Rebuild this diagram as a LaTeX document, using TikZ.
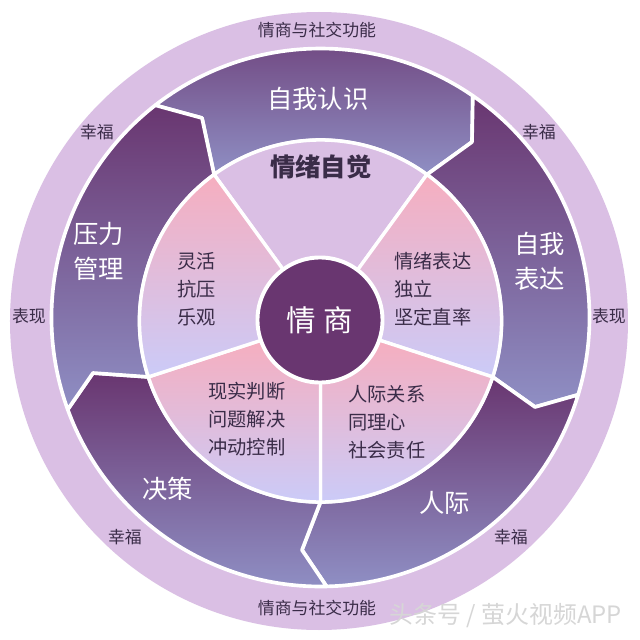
\documentclass[tikz,border=0pt]{standalone}
\usepackage{fontspec}
\setmainfont{Noto Sans CJK SC}
\definecolor{ringbg}{HTML}{DABFE4}
\definecolor{segtop}{HTML}{693670}
\definecolor{segbot}{HTML}{8F8FC4}
\definecolor{secttop}{HTML}{F6AEBF}
\definecolor{sectbot}{HTML}{CBCBF8}
\definecolor{ink}{HTML}{3A2C48}

\begin{document}
\begin{tikzpicture} [
    x=0.025cm, y=0.025cm,
    seg/.style      = { draw=white, line width=2.6pt, line join=round,
                        top color=segtop, bottom color=segbot },
    sect/.style     = { draw=white, line width=2.4pt, line join=round,
                        top color=secttop, bottom color=sectbot },
    etiq/.style     = { text=ink, font=\fontsize{12}{14}\selectfont, inner sep=0pt },
    seglab/.style   = { text=white, align=center, inner sep=0pt,
                        font=\fontsize{18}{25}\selectfont },
    sectlab/.style  = { text=ink, align=left, inner sep=0pt,
                        font=\fontsize{13.7}{20}\selectfont },
  ]
\useasboundingbox (-320,-320) rectangle (320,320);
\fill[white] (-320,-320) rectangle (320,320);

\fill[ringbg] (-1,-1) circle[radius=309];

% joints between the ring segments
\coordinate (Ring) at (0.5,2.5);
\begin{scope}[shift={(Ring)}]
\coordinate (ra) at (127.9:269);
\coordinate (rb) at (55.5:269);
\coordinate (rc) at (-16.7:269);
\coordinate (rd) at (-88.7:269);
\coordinate (re) at (-160:269);
\end{scope}
\coordinate (ea) at (-118,202);
\coordinate (eb) at (152,178);
\coordinate (ec) at (215,-87);
\coordinate (ed) at (-18,-230);
\coordinate (ee) at (-227,-53);

\begin{scope}[shift={(0.5,-1)}]
\coordinate (wa) at (126:181);
\coordinate (wb) at (54:181);
\coordinate (wc) at (-18:181);
\coordinate (wd) at (-90:181);
\coordinate (we) at (-162:181);
\coordinate (ia) at (126:60);
\coordinate (ib) at (54:60);
\coordinate (ic) at (-18:60);
\coordinate (id) at (-90:60);
\coordinate (ie) at (-162:60);
\end{scope}

\path[seg, top color=segtop!85!segbot] (ra) arc[start angle=127.9, end angle=55.5, radius=269] -- (eb) -- (wb)
  arc[start angle=54, end angle=126, radius=181] -- (ea) -- cycle;
\path[seg] (rb) arc[start angle=55.5, end angle=-16.7, radius=269] -- (ec) -- (wc)
  arc[start angle=-18, end angle=54, radius=181] -- (eb) -- cycle;
\path[seg] (rc) arc[start angle=-16.7, end angle=-88.7, radius=269] -- (ed) -- (wd)
  arc[start angle=-90, end angle=-18, radius=181] -- (ec) -- cycle;
\path[seg] (rd) arc[start angle=-88.7, end angle=-160, radius=269] -- (ee) -- (we)
  arc[start angle=-162, end angle=-90, radius=181] -- (ed) -- cycle;
\path[seg] (re) arc[start angle=200, end angle=127.9, radius=269] -- (ea) -- (wa)
  arc[start angle=126, end angle=198, radius=181] -- (ee) -- cycle;

\path[sect, fill=ringbg, top color=ringbg, bottom color=ringbg] (ia) -- (wa)
  arc[start angle=126, end angle=54, radius=181] -- (ib) -- cycle;
\path[sect] (ib) -- (wb) arc[start angle=54, end angle=-18, radius=181] -- (ic) -- cycle;
\path[sect] (ic) -- (wc) arc[start angle=-18, end angle=-90, radius=181] -- (id) -- cycle;
\path[sect] (id) -- (wd) arc[start angle=-90, end angle=-162, radius=181] -- (ie) -- cycle;
\path[sect] (ie) -- (we) arc[start angle=198, end angle=126, radius=181] -- (ia) -- cycle;

\node (Eq) [circle, fill=segtop, draw=white, line width=2.8pt, minimum size=3.125cm, inner sep=0pt,
  text=white, font=\fontsize{21}{26}\selectfont] at (0,0) {情\hspace{5pt}商};

\node (Self) [seglab] at (-2,221) {自我认识};
\node (Stress) [seglab] at (-221,69) {压力\\管理};
\node (Expr) [seglab] at (220,59) {自我\\表达};
\node (Decide) [seglab] at (-152,-169) {决策};
\node (Social) [seglab] at (125,-183) {人际};

\node (Aware) [text=ink, font=\fontsize{18}{20}\selectfont\bfseries, inner sep=0pt] at (1,153) {情绪自觉};
\node (Flex) [sectlab] at (-123,31) {灵活\\抗压\\乐观};
\node (Emo) [sectlab] at (113,31) {情绪表达\\独立\\坚定直率};
\node (Real) [sectlab] at (-73,-99) {现实判断\\问题解决\\冲动控制};
\node (Rel) [sectlab] at (67,-102) {人际关系\\同理心\\社会责任};

\node (FnT) [etiq] at (-3,290) {情商与社交功能};
\node (FnB) [etiq] at (-3,-288) {情商与社交功能};
\node (HapA) [etiq] at (-223,188) {幸福};
\node (HapB) [etiq] at (219,188) {幸福};
\node (HapC) [etiq] at (-195,-217) {幸福};
\node (HapD) [etiq] at (191,-217) {幸福};
\node (ShowL) [etiq] at (-291,4) {表现};
\node (ShowR) [etiq] at (289,4) {表现};

\node (Mark) [text=white!68!gray, font=\fontsize{17}{20}\selectfont, inner sep=0pt] at (186,-296) {头条号 / 萤火视频APP};

\end{tikzpicture}
\end{document}
